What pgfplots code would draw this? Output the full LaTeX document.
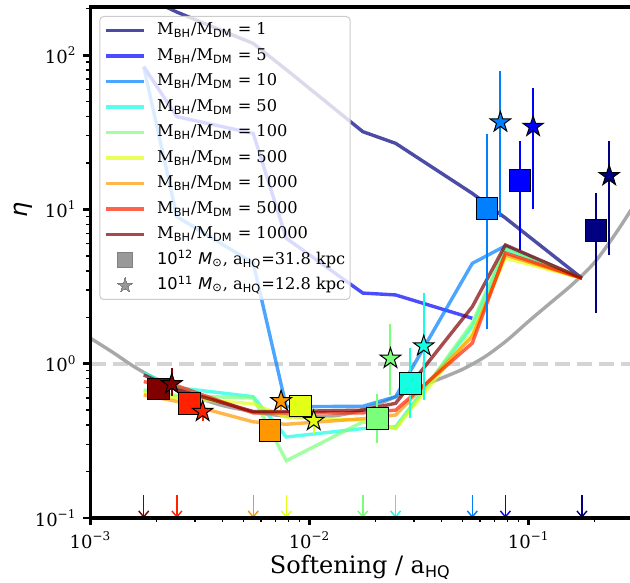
\documentclass[border=0pt]{standalone}
\usepackage{fontspec}
\setmainfont{DejaVu Serif}
\setsansfont{DejaVu Sans}
\usepackage{pgfplots}
\usepackage{pgfplotstable}
\pgfplotsset{compat=1.18}
\usetikzlibrary{arrows.meta}

\definecolor{j0}{rgb}{0,0,0.5}
\definecolor{j1}{rgb}{0,0,1}
\definecolor{j2}{rgb}{0,0.5,1}
\definecolor{j3}{rgb}{0.08,1,0.887}
\definecolor{j4}{rgb}{0.484,1,0.484}
\definecolor{j5}{rgb}{0.887,1,0.081}
\definecolor{j6}{rgb}{1,0.593,0}
\definecolor{j7}{rgb}{1,0.13,0}
\definecolor{j8}{rgb}{0.5,0,0}
\definecolor{greyc}{rgb}{0.66,0.66,0.66}
\definecolor{legg}{rgb}{0.5,0.5,0.5}

\pgfdeclareplotmark{fstar}{%
  \pgfpathmoveto{\pgfpointpolar{90}{\pgfplotmarksize}}%
  \pgfpathlineto{\pgfpointpolar{126}{0.382\pgfplotmarksize}}%
  \pgfpathlineto{\pgfpointpolar{162}{\pgfplotmarksize}}%
  \pgfpathlineto{\pgfpointpolar{198}{0.382\pgfplotmarksize}}%
  \pgfpathlineto{\pgfpointpolar{234}{\pgfplotmarksize}}%
  \pgfpathlineto{\pgfpointpolar{270}{0.382\pgfplotmarksize}}%
  \pgfpathlineto{\pgfpointpolar{306}{\pgfplotmarksize}}%
  \pgfpathlineto{\pgfpointpolar{342}{0.382\pgfplotmarksize}}%
  \pgfpathlineto{\pgfpointpolar{18}{\pgfplotmarksize}}%
  \pgfpathlineto{\pgfpointpolar{54}{0.382\pgfplotmarksize}}%
  \pgfpathclose
  \pgfusepathqfillstroke
}

\tikzset{
  l0/.style={draw=j0, draw opacity=0.7, line width=1.7pt},
  l1/.style={draw=j1, draw opacity=0.7, line width=1.7pt},
  l2/.style={draw=j2, draw opacity=0.7, line width=1.7pt},
  l3/.style={draw=j3, draw opacity=0.7, line width=1.7pt},
  l4/.style={draw=j4, draw opacity=0.7, line width=1.7pt},
  l5/.style={draw=j5, draw opacity=0.7, line width=1.7pt},
  l6/.style={draw=j6, draw opacity=0.7, line width=1.7pt},
  l7/.style={draw=j7, draw opacity=0.7, line width=1.7pt},
  l8/.style={draw=j8, draw opacity=0.7, line width=1.7pt},
  sq/.style={only marks, mark=square*, mark size=5.4pt, mark options={fill=#1, draw=black, line width=0.5pt}},
  st/.style={only marks, mark=fstar, mark size=5.4pt, mark options={fill=#1, draw=black, line width=0.5pt}},
  eb/.style={draw=#1, line width=1pt},
  ar/.style={draw=#1, line width=0.7pt, -{Straight Barb[length=3pt,width=5pt,line width=0.7pt]}},
}

\newcommand{\MR}{M\textsubscript{\sffamily BH}/M\textsubscript{\sffamily DM}}

\pgfplotstableread{
x m1 m5 m10 m50 m100 m500 m1000 m5000 m10000
0.00175 240 84.1 84.1 0.87 0.675 0.646 0.627 0.764 0.845
0.00248 190 39.9 8.97 0.70 0.62 0.60 0.57 0.72 0.68
0.00553 119 31.1 4.49 0.611 0.60 0.55 0.42 0.48 0.49
0.00783 80.5 6.5 0.526 0.335 0.235 0.45 0.405 0.48 0.49
0.0175 31.9 2.87 0.53 0.38 0.42 0.43 0.44 0.48 0.50
0.0247 26.8 2.79 0.611 0.39 0.38 0.38 0.465 0.50 0.554
0.0553 12.7 1.97 4.47 1.75 1.835 1.58 1.50 1.36 2.34
0.0783 8.8 nan 5.8 5.46 5.62 4.84 5.06 5.22 5.88
0.175 3.58 nan 3.58 3.58 3.58 3.58 3.58 3.58 3.58
}\lines

\begin{document}
\begin{tikzpicture}
\begin{axis}[name=ax, scale only axis, width=269.75pt, height=255.5pt,
  xmode=log, ymode=log, xmin=0.001, xmax=0.29, ymin=0.1, ymax=205,
  axis line style={draw=none},
  tick pos=left, tick align=outside,
  major tick length=3.5pt, minor tick length=2pt,
  every major tick/.append style={line width=1.4pt, black},
  every minor tick/.append style={line width=0.7pt, black},
  xtick={0.001,0.01,0.1},
  xticklabels={10\textsuperscript{−3},10\textsuperscript{−2},10\textsuperscript{−1}},
  minor xtick={0.002,0.003,0.004,0.005,0.006,0.007,0.008,0.009,0.02,0.03,0.04,0.05,0.06,0.07,0.08,0.09,0.2},
  ytick={0.1,1,10,100},
  yticklabels={10\textsuperscript{−1},10\textsuperscript{0},10\textsuperscript{1},10\textsuperscript{2}},
  minor ytick={0.2,0.3,0.4,0.5,0.6,0.7,0.8,0.9,2,3,4,5,6,7,8,9,20,30,40,50,60,70,80,90,200},
  tick label style={font=\fontsize{9}{10}\selectfont},
  legend image code/.code={\draw[#1] (0pt,0pt) -- (18.8pt,0pt);},
  legend cell align=left,
  legend style={at={(0.0163,0.9824)}, anchor=north west, draw=black!20, line width=0.5pt,
    rounded corners=2pt, fill=white, fill opacity=0.8, text opacity=1,
    font=\fontsize{8.1}{10}\selectfont, inner xsep=2.4pt, inner ysep=3pt,
    nodes={inner sep=0pt, text height=6.2pt, text depth=1.8pt},
    row sep=4.75pt, column sep=5.8pt},
]
% reference line eta = 1
\addplot[draw=black!17, line width=2pt, dash pattern=on 7.7pt off 3.35pt, forget plot]
  coordinates {(0.001,1) (0.29,1)};
% grey curve
\addplot[draw=greyc, line width=1.7pt, smooth, forget plot] coordinates {
(0.001,1.462) (0.001259,1.189) (0.001585,0.955) (0.001995,0.794) (0.002512,0.676)
(0.003162,0.596) (0.003981,0.537) (0.005012,0.501) (0.00631,0.473) (0.007943,0.457)
(0.01,0.452) (0.01259,0.457) (0.01585,0.484) (0.01995,0.537) (0.02512,0.617)
(0.03162,0.708) (0.03981,0.804) (0.05012,0.923) (0.0631,1.109) (0.07943,1.413)
(0.1,1.884) (0.1259,2.483) (0.1585,3.273) (0.1995,4.519) (0.2512,7.08) (0.3162,11.75)};
% lines
\addplot[l0, forget plot] table[x=x,y=m1]{\lines};
\addplot[l1, forget plot] table[x=x,y=m5]{\lines};
\addplot[l2, forget plot] table[x=x,y=m10]{\lines};
\addplot[l3, forget plot] table[x=x,y=m50]{\lines};
\addplot[l4, forget plot] table[x=x,y=m100]{\lines};
\addplot[l5, forget plot] table[x=x,y=m500]{\lines};
\addplot[l6, forget plot] table[x=x,y=m1000]{\lines};
\addplot[l7, forget plot] table[x=x,y=m5000]{\lines};
\addplot[l8, forget plot] table[x=x,y=m10000]{\lines};
% arrows
\addplot[ar=j8, forget plot] coordinates {(0.00175,0.141) (0.00175,0.1)};
\addplot[ar=j7, forget plot] coordinates {(0.00248,0.141) (0.00248,0.1)};
\addplot[ar=j6, forget plot] coordinates {(0.00553,0.141) (0.00553,0.1)};
\addplot[ar=j5, forget plot] coordinates {(0.00783,0.141) (0.00783,0.1)};
\addplot[ar=j4, forget plot] coordinates {(0.0175,0.141) (0.0175,0.1)};
\addplot[ar=j3, forget plot] coordinates {(0.0247,0.141) (0.0247,0.1)};
\addplot[ar=j2, forget plot] coordinates {(0.0553,0.141) (0.0553,0.1)};
\addplot[ar=j1, forget plot] coordinates {(0.0783,0.141) (0.0783,0.1)};
\addplot[ar=j0, forget plot] coordinates {(0.175,0.141) (0.175,0.1)};
% error bars squares
\addplot[eb=j8, forget plot] coordinates {(0.00204,0.62) (0.00204,0.76)};
\addplot[eb=j7, forget plot] coordinates {(0.00283,0.50) (0.00283,0.60)};
\addplot[eb=j6, forget plot] coordinates {(0.0066,0.33) (0.0066,0.41)};
\addplot[eb=j5, forget plot] coordinates {(0.0091,0.48) (0.0091,0.58)};
\addplot[eb=j4, forget plot] coordinates {(0.0204,0.305) (0.0204,0.636)};
\addplot[eb=j3, forget plot] coordinates {(0.0288,0.443) (0.0288,1.26)};
\addplot[eb=j2, forget plot] coordinates {(0.0645,1.69) (0.0645,30.7)};
\addplot[eb=j1, forget plot] coordinates {(0.0912,5.46) (0.0912,27.9)};
\addplot[eb=j0, forget plot] coordinates {(0.2028,2.12) (0.2028,12.8)};
% error bars stars
\addplot[eb=j8, forget plot] coordinates {(0.00235,0.62) (0.00235,0.933)};
\addplot[eb=j7, forget plot] coordinates {(0.00325,0.425) (0.00325,0.556)};
\addplot[eb=j6, forget plot] coordinates {(0.00741,0.50) (0.00741,0.65)};
\addplot[eb=j5, forget plot] coordinates {(0.01045,0.35) (0.01045,0.50)};
\addplot[eb=j4, forget plot] coordinates {(0.0234,0.627) (0.0234,1.81)};
\addplot[eb=j3, forget plot] coordinates {(0.0332,0.582) (0.0332,2.89)};
\addplot[eb=j2, forget plot] coordinates {(0.0743,8.97) (0.0743,79.2)};
\addplot[eb=j1, forget plot] coordinates {(0.1048,10.0) (0.1048,61)};
\addplot[eb=j0, forget plot] coordinates {(0.2331,5.04) (0.2331,27.9)};
% squares (10^12)
\addplot[sq=j8, forget plot] coordinates {(0.00204,0.685)};
\addplot[sq=j7, forget plot] coordinates {(0.00283,0.551)};
\addplot[sq=j6, forget plot] coordinates {(0.0066,0.369)};
\addplot[sq=j5, forget plot] coordinates {(0.0091,0.531)};
\addplot[sq=j4, forget plot] coordinates {(0.0204,0.44)};
\addplot[sq=j3, forget plot] coordinates {(0.0288,0.746)};
\addplot[sq=j2, forget plot] coordinates {(0.0645,10.1)};
\addplot[sq=j1, forget plot] coordinates {(0.0912,15.4)};
\addplot[sq=j0, forget plot] coordinates {(0.2028,7.27)};
% stars (10^11)
\addplot[st=j8, forget plot] coordinates {(0.00235,0.738)};
\addplot[st=j7, forget plot] coordinates {(0.00325,0.489)};
\addplot[st=j6, forget plot] coordinates {(0.00741,0.573)};
\addplot[st=j5, forget plot] coordinates {(0.01045,0.427)};
\addplot[st=j4, forget plot] coordinates {(0.0234,1.08)};
\addplot[st=j3, forget plot] coordinates {(0.0332,1.30)};
\addplot[st=j2, forget plot] coordinates {(0.0743,36.7)};
\addplot[st=j1, forget plot] coordinates {(0.1048,34.4)};
\addplot[st=j0, forget plot] coordinates {(0.2331,16.5)};
% legend
\addlegendimage{l0}\addlegendentry{\MR{} = 1}
\addlegendimage{l1}\addlegendentry{\MR{} = 5}
\addlegendimage{l2}\addlegendentry{\MR{} = 10}
\addlegendimage{l3}\addlegendentry{\MR{} = 50}
\addlegendimage{l4}\addlegendentry{\MR{} = 100}
\addlegendimage{l5}\addlegendentry{\MR{} = 500}
\addlegendimage{l6}\addlegendentry{\MR{} = 1000}
\addlegendimage{l7}\addlegendentry{\MR{} = 5000}
\addlegendimage{l8}\addlegendentry{\MR{} = 10000}
\addlegendimage{legend image code/.code={\draw[draw=legg, fill=legg, line width=0pt, only marks, mark=square*, mark size=3.6pt, mark options={draw=legg, fill=legg, line width=0pt}] plot coordinates {(9.4pt,0pt)};}}
\addlegendentry{{\sffamily 10\textsuperscript{12} \textit{M}\textsubscript{⊙}}, a\textsubscript{\sffamily HQ}=31.8 kpc}
\addlegendimage{legend image code/.code={\draw[draw=legg, fill=legg, line width=0pt, only marks, mark=fstar, mark size=3.9pt, mark options={draw=legg, fill=legg, line width=0pt}] plot coordinates {(9.4pt,0pt)};}}
\addlegendentry{{\sffamily 10\textsuperscript{11} \textit{M}\textsubscript{⊙}}, a\textsubscript{\sffamily HQ}=12.8 kpc}
\end{axis}
\draw[line width=1.75pt] (ax.north east) -- (ax.north west) -- (ax.south west) -- (ax.south east);
\node[anchor=base, font=\fontsize{12}{14}\selectfont] at ([yshift=-27.85pt]ax.south) {Softening / a\textsubscript{\sffamily HQ}};
\node[rotate=90, font=\fontsize{12}{14}\selectfont\sffamily\itshape] at ([xshift=-33.75pt,yshift=154pt]ax.south west) {η};
\pgfresetboundingbox
\path[use as bounding box] ([xshift=-45.25pt,yshift=-32pt]ax.south west) rectangle ([yshift=3.5pt]ax.north east);
\end{tikzpicture}
\end{document}
